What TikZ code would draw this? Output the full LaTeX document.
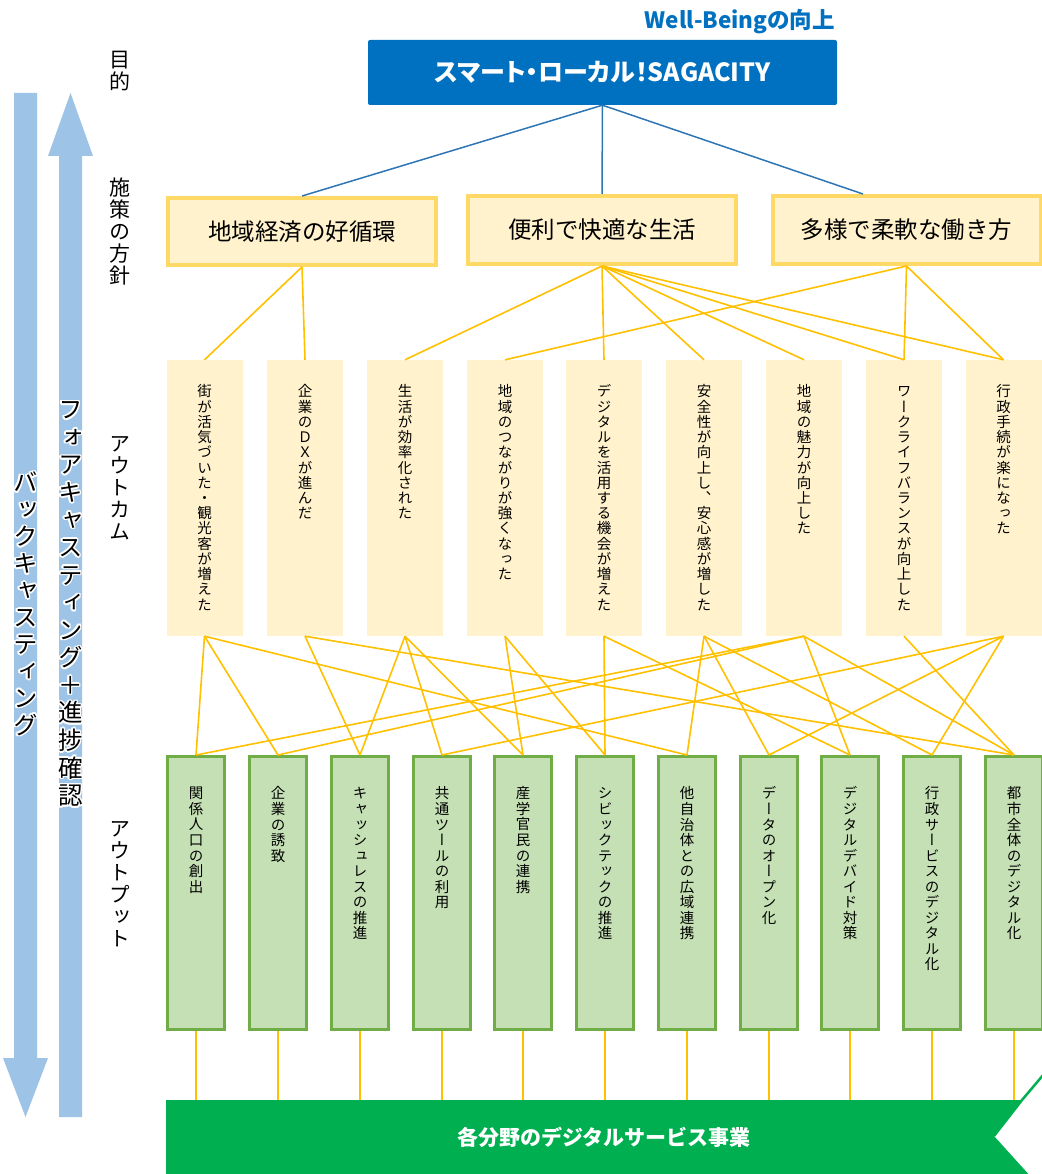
\documentclass[tikz,border=0pt]{standalone}
\usepackage{fontspec}
\setmainfont{Noto Sans CJK JP}
\newfontfamily\vjp[RawFeature=+vert]{Noto Sans CJK JP}
\newfontfamily\propjp[RawFeature=+palt]{Noto Sans CJK JP}
\usepackage[copies]{contour}
\contourlength{1.6pt}
\contournumber{12}
\usetikzlibrary{calc}
\definecolor{goalblue}{HTML}{0070C0}
\definecolor{linkblue}{HTML}{2E75B6}
\definecolor{polfill}{HTML}{FFF2CC}
\definecolor{polborder}{HTML}{FFD966}
\definecolor{linkyel}{HTML}{FFC000}
\definecolor{outfill}{HTML}{C5E0B4}
\definecolor{outborder}{HTML}{70AD47}
\definecolor{bannergreen}{HTML}{00B050}
\definecolor{arrowblue}{HTML}{9DC3E6}
\newcommand\vcf{}
\def\vstep{1.05}
\newcommand\vstack[2]{\vbox{\offinterlineskip\def\vstep{#1}\vjp\expandafter\vstackA#2\relax}}
\def\vstackA#1{\ifx\relax#1\else\hbox to 1.1em{\hss\vrule width0pt height 0.88em depth \dimexpr\vstep em-0.88em\relax\vcf{#1}\hss}\expandafter\vstackA\fi}
\tikzset{
 goalbox/.style={fill=goalblue, rounded corners=2pt, minimum width=469pt, minimum height=65pt, inner sep=0pt, text=white, font=\propjp\fontsize{25}{29}\selectfont\bfseries},
 polbox/.style={fill=polfill, draw=polborder, line width=4pt, minimum width=268pt, minimum height=67pt, inner sep=0pt, font=\fontsize{23.5}{27}\selectfont},
 ocbox/.style={fill=polfill, minimum width=76pt, minimum height=276pt, inner sep=0pt},
 opbox/.style={fill=outfill, draw=outborder, line width=3pt, minimum width=57pt, minimum height=273pt, inner sep=0pt},
 vlabel/.style={anchor=north, inner sep=0pt, font=\fontsize{14.5}{17}\selectfont},
 ylink/.style={draw=linkyel, line width=1.6pt},
 yfeed/.style={draw=linkyel, line width=1.3pt},
 blink/.style={draw=linkblue, line width=1.5pt},
 sidelabel/.style={anchor=north, inner sep=0pt, font=\fontsize{21}{25}\selectfont},
 arrowtxt/.style={anchor=north, inner sep=0pt, font=\fontsize{24.5}{28}\selectfont},
 bannertxt/.style={inner sep=0pt, text=white, font=\fontsize{21}{25}\selectfont\bfseries},
}
\begin{document}
\begin{tikzpicture}[x=1pt,y=-1pt]
\useasboundingbox (0,0) rectangle (1041,1174);
% side arrows
\fill[arrowblue] (14,93) -- (37,93) -- (37,1058) -- (48,1058) -- (25.5,1117) -- (3,1058) -- (14,1058) -- cycle;
\fill[arrowblue] (59,1117) -- (82,1117) -- (82,156) -- (93,156) -- (70.5,93) -- (48,156) -- (59,156) -- cycle;
\node[arrowtxt] (backtxt) at (25.5,470) {\def\vcf{\contour{white}}\vstack{1.1}{バックキャスティング}};
\node[arrowtxt] (foretxt) at (70.5,397) {\def\vcf{\contour{white}}\vstack{1.125}{フォアキャスティング＋進捗確認}};
% side labels
\node[sidelabel] (lab1) at (120,49) {\vstack{1.05}{目的}};
\node[sidelabel] (lab2) at (120,177) {\vstack{1.05}{施策の方針}};
\node[sidelabel] (lab3) at (120,433) {\vstack{1.05}{アウトカム}};
\node[sidelabel] (lab4) at (120,818) {\vstack{1.05}{アウトプット}};
% goal
\node[anchor=east, inner sep=0pt, text=goalblue, font=\propjp\fontsize{22.5}{26}\selectfont\bfseries] (wb) at (835,22) {Well-Beingの向上};
\node[goalbox] (goal) at (602.5,72.5) {スマート・ローカル！SAGACITY};
% policies
\node[polbox] (p1) at (302,231.5) {地域経済の好循環};
\node[polbox, minimum height=68pt] (p2) at (602,230) {便利で快適な生活};
\node[polbox, minimum height=68pt] (p3) at (906.5,230) {多様で柔軟な働き方};
\draw[blink] (goal.south) -- (p1.north);
\draw[blink] (goal.south) -- (p2.north);
\draw[blink] (goal.south) -- ($(p3.north west)!0.34!(p3.north east)$);
% outcomes
\foreach \i/\x/\t in {1/204.5/{街が活気づいた・観光客が増えた},2/305/{企業のＤＸが進んだ},3/405/{生活が効率化された},4/505/{地域のつながりが強くなった},5/604/{デジタルを活用する機会が増えた},6/704/{安全性が向上し、安心感が増した},7/804/{地域の魅力が向上した},8/904/{ワークライフバランスが向上した},9/1003.5/{行政手続が楽になった}}{
  \node[ocbox] (o\i) at (\x,498) {};
  \node[vlabel] (ot\i) at (\x,384) {\vstack{1.05}{\t}};
}
% outputs
\foreach \i/\x/\t in {1/196/{関係人口の創出},2/278/{企業の誘致},3/360/{キャッシュレスの推進},4/442/{共通ツールの利用},5/523/{産学官民の連携},6/605/{シビックテックの推進},7/687/{他自治体との広域連携},8/769/{データのオープン化},9/850/{デジタルデバイド対策},10/932/{行政サービスのデジタル化},11/1014/{都市全体のデジタル化}}{
  \node[opbox] (q\i) at (\x,893) {};
  \node[vlabel] (qt\i) at (\x,786) {\vstack{1.07}{\t}};
}
% policy -> outcome
\foreach \p/\o in {1/1,1/2,2/3,2/5,2/6,2/7,2/8,2/9,3/4,3/8,3/9}{
  \draw[ylink] (p\p.south) -- (o\o.north);
}
% outcome -> output
\foreach \o/\q in {1/1,1/2,1/7,2/3,2/11,3/3,3/4,3/5,4/5,4/6,5/6,5/9,6/7,6/8,6/10,7/1,7/2,7/9,7/11,8/11,9/4,9/8,9/10}{
  \draw[ylink] (o\o.south) -- (q\q.north);
}
% banner
\coordinate (bantop) at (594,1100);
\fill[bannergreen] (166,1100) -- (1022,1100) -- (994,1136) -- (1032,1178) -- (166,1178) -- cycle;
\draw[bannergreen, line width=2.5pt] (994,1136) -- (1022,1100) -- (1044,1074);
\node[bannertxt] (banner) at (604,1137) {各分野のデジタルサービス事業};
\foreach \k in {1,...,11}{
  \draw[yfeed] (q\k.south) -- (q\k.south |- bantop);
}
\end{tikzpicture}
\end{document}
